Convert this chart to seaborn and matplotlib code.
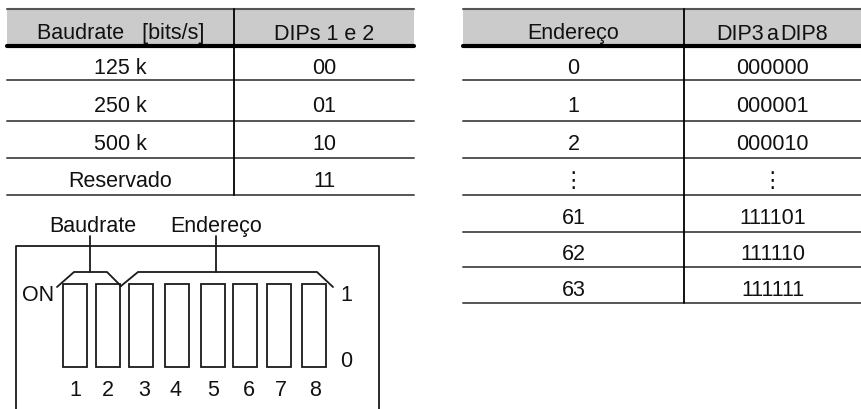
import matplotlib
matplotlib.use("Agg")
import matplotlib.pyplot as plt
import seaborn as sns
from matplotlib.patches import Rectangle

sns.set_theme(style="white")
plt.rcParams['font.family'] = ['Liberation Sans', 'DejaVu Sans']

# dados das tabelas
baud_header = ["Baudrate   [bits/s]", "DIPs 1 e 2"]
baud_rates = ["125 k", "250 k", "500 k", "Reservado"]
baud_dips = ["00", "01", "10", "11"]

addr_header = ["Endereço", "DIP3 a DIP8"]
addresses = ["0", "1", "2", "⋮", "61", "62", "63"]
addr_dips = ["000000", "000001", "000010", "⋮", "111101", "111110", "111111"]

switch_labels = ["1", "2", "3", "4", "5", "6", "7", "8"]

# layout (pixels)
FS = 15.5
top, head_bot = 10, 47
row_lines = [47, 81, 122, 159, 196, 233, 268, 304]
left_tab = (7, 234, 414)
right_tab = (463, 684, 861)
sw_left = [63, 96, 129, 165, 201, 233, 267, 302]
sw_w, sw_top, sw_bot = 23.5, 285, 368
num_x = [75, 108, 144, 176, 213, 249, 281, 315]

fig = plt.figure(figsize=(8.61, 4.10), dpi=100)
ax = fig.add_axes([0, 0, 1, 1])
ax.set_xlim(0, 861)
ax.set_ylim(410, 0)
ax.axis('off')

kw = dict(va='baseline', fontsize=FS, color='#111111')


def tabela(cols, header, c1, c2, apertado=False):
    x0, xm, x1 = cols
    n = len(c1)
    ax.add_patch(Rectangle((x0, top), x1 - x0, head_bot - top, facecolor='#cbcbcb', edgecolor='none'))
    ax.plot([x0, x1], [top, top], color='#555555', lw=1.5)
    ax.plot([x0, x1], [head_bot, head_bot], color='black', lw=3)
    for y in row_lines[1:n + 1]:
        ax.plot([x0, x1], [y, y], color='#555555', lw=1.4)
    ax.plot([xm, xm], [top, row_lines[n]], color='black', lw=1.3)
    cx1, cx2 = (x0 + xm) / 2, (xm + x1) / 2
    yh = (top + head_bot) / 2 + 11
    ax.text(cx1, yh, header[0], ha='center', **kw)
    if apertado:
        # espaços estreitos como no original
        a, b, c = header[1].split()
        ax.text(cx2 - 9, yh, a, ha='right', **kw)
        ax.text(cx2 - 0.5, yh, b, ha='center', **kw)
        ax.text(cx2 + 8, yh, c, ha='left', **kw)
    else:
        ax.text(cx2, yh, header[1], ha='center', **kw)
    for i in range(n):
        yb = (row_lines[i] + row_lines[i + 1]) / 2 + 10
        ax.text(cx1, yb, c1[i], ha='center', **kw)
        ax.text(cx2, yb, c2[i], ha='center', **kw)


tabela(left_tab, baud_header, baud_rates, baud_dips)
tabela(right_tab, addr_header, addresses, addr_dips, apertado=True)

# chave DIP
lc = '#1a1a1a'
ax.plot([16, 16, 379, 379], [410, 247, 247, 410], color=lc, lw=1.3)
for x, lab, nx in zip(sw_left, switch_labels, num_x):
    ax.add_patch(Rectangle((x, sw_top), sw_w, sw_bot - sw_top, facecolor='none', edgecolor=lc, lw=1.3))
    ax.text(nx, 396, lab, ha='center', **kw)

# colchetes
ax.plot([57, 74, 107, 121], [288, 273, 273, 287], color=lc, lw=1.3)
ax.plot([121, 138, 317, 333], [287, 273, 273, 288], color=lc, lw=1.3)
ax.plot([90, 90], [237, 273], color=lc, lw=1.3)
ax.plot([216, 216], [237, 273], color=lc, lw=1.3)
ax.text(93, 232, "Baudrate", ha='center', **kw)
ax.text(216, 232, "Endereço", ha='center', **kw)

ax.text(54, 301, "ON", ha='right', **kw)
ax.text(346, 301, "1", ha='center', **kw)
ax.text(346, 367, "0", ha='center', **kw)

fig.savefig("out.png", dpi=100)
